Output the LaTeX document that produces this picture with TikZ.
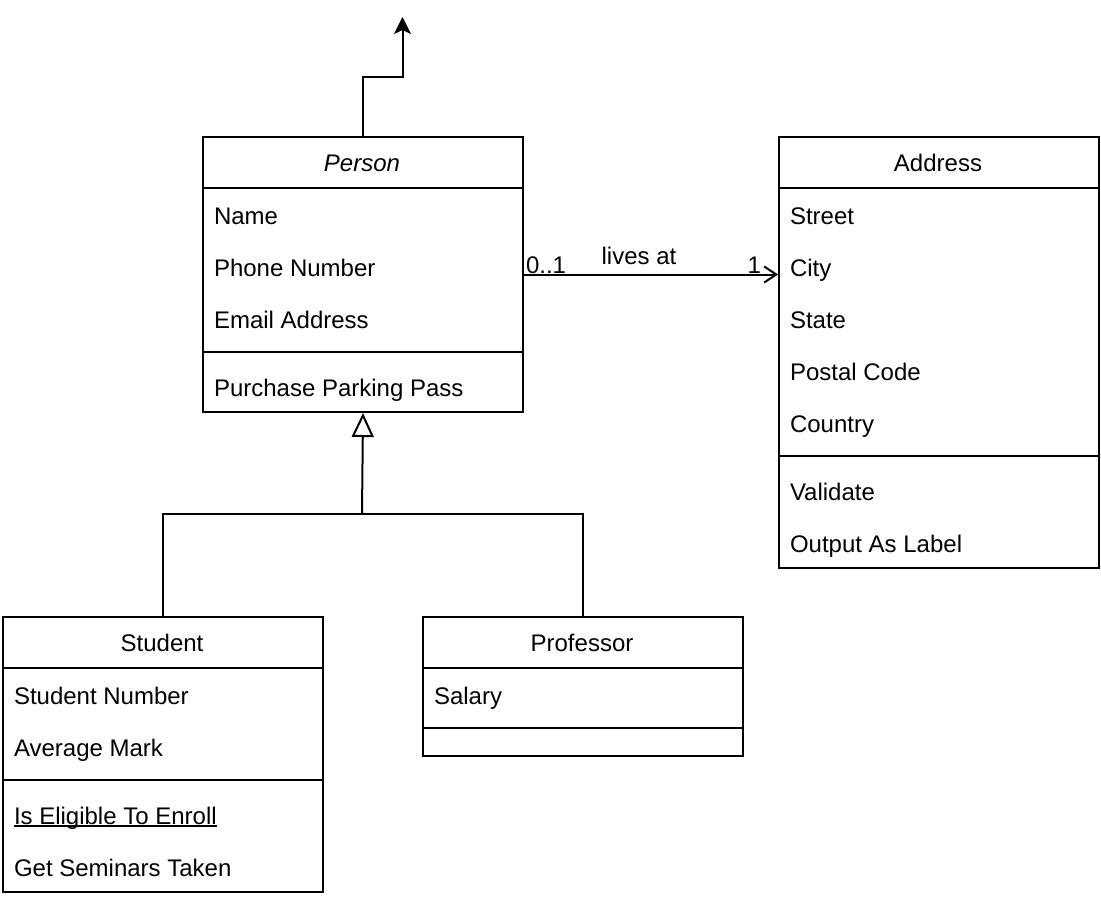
\documentclass[tikz,border=0pt]{standalone}
\usepackage{fontspec}
\setmainfont{Liberation Sans}
\usetikzlibrary{arrows.meta}
% underline drawn as a thin rule just under the baseline
\newcommand\ulinetext[1]{\setbox0\hbox{#1}\rlap{\rule[-2.5pt]{\wd0}{1.6pt}}\box0}
\begin{document}
\begin{tikzpicture}[x=1pt,y=-1pt,line width=2pt,
  font=\fontsize{24}{28}\selectfont,
  classbox/.style={draw=black,line width=2pt,minimum width=320pt,inner sep=0pt,anchor=north west},
  title/.style={inner sep=0pt,anchor=base},
  member/.style={inner sep=0pt,anchor=base west},
  lbl/.style={inner sep=0pt}]
\useasboundingbox (0,0) rectangle (1101,900);

% ---------- Person ----------
\node[classbox,minimum height=275pt] (person) at (202,136) {};
\draw ([yshift=-52pt]person.north west) -- ([yshift=-52pt]person.north east);
\draw ([yshift=-216pt]person.north west) -- ([yshift=-216pt]person.north east);
\node[title] (person-t) at (362,171) {\itshape Person};
\node[member] (person-a1) at (213,224) {Name};
\node[member] (person-a2) at (213,276) {Phone Number};
\node[member] (person-a3) at (213,328) {Email Address};
\node[member] (person-m1) at (213,396) {Purchase Parking Pass};

% ---------- Address ----------
\node[classbox,minimum height=431pt] (address) at (778,136) {};
\draw ([yshift=-52pt]address.north west) -- ([yshift=-52pt]address.north east);
\draw ([yshift=-320pt]address.north west) -- ([yshift=-320pt]address.north east);
\node[title] (address-t) at (938,171) {Address};
\node[member] (address-a1) at (789,224) {Street};
\node[member] (address-a2) at (789,276) {City};
\node[member] (address-a3) at (789,328) {State};
\node[member] (address-a4) at (789,380) {Postal Code};
\node[member] (address-a5) at (789,432) {Country};
\node[member] (address-m1) at (789,500) {Validate};
\node[member] (address-m2) at (789,552) {Output As Label};

% ---------- Student ----------
\node[classbox,minimum height=275pt] (student) at (2,616) {};
\draw ([yshift=-52pt]student.north west) -- ([yshift=-52pt]student.north east);
\draw ([yshift=-164pt]student.north west) -- ([yshift=-164pt]student.north east);
\node[title] (student-t) at (162,651) {Student};
\node[member] (student-a1) at (13,704) {Student Number};
\node[member] (student-a2) at (13,756) {Average Mark};
\node[member] (student-m1) at (13,824) {\ulinetext{Is Eligible To Enroll}};
\node[member] (student-m2) at (13,876) {Get Seminars Taken};

% ---------- Professor ----------
\node[classbox,minimum height=139pt] (professor) at (422,616) {};
\draw ([yshift=-52pt]professor.north west) -- ([yshift=-52pt]professor.north east);
\draw ([yshift=-112pt]professor.north west) -- ([yshift=-112pt]professor.north east);
\node[title] (professor-t) at (582,651) {Professor};
\node[member] (professor-a1) at (433,704) {Salary};

% ---------- Connectors ----------
\coordinate (up) at (402.5,17);
\draw[-{Stealth[length=17pt,width=17pt,inset=4pt]}] (person.north) -- ++(0,-59) -| (up);

\coordinate (fork) at (362,514);
\draw (student.north) |- (fork) -| (professor.north);
\draw[-{Triangle[open,length=24pt,width=22pt]}] (fork) -- (person.south);

\draw[-{Straight Barb[length=12pt,width=16pt]}] (person.east) -- (person.east -| address.west);
\node[lbl,anchor=base west] (mult-src) at (525,273) {0..1};
\node[lbl,anchor=base] (assoc-name) at (639,264) {lives at};
\node[lbl,anchor=base east] (mult-dst) at (762,273) {1};
\end{tikzpicture}
\end{document}
